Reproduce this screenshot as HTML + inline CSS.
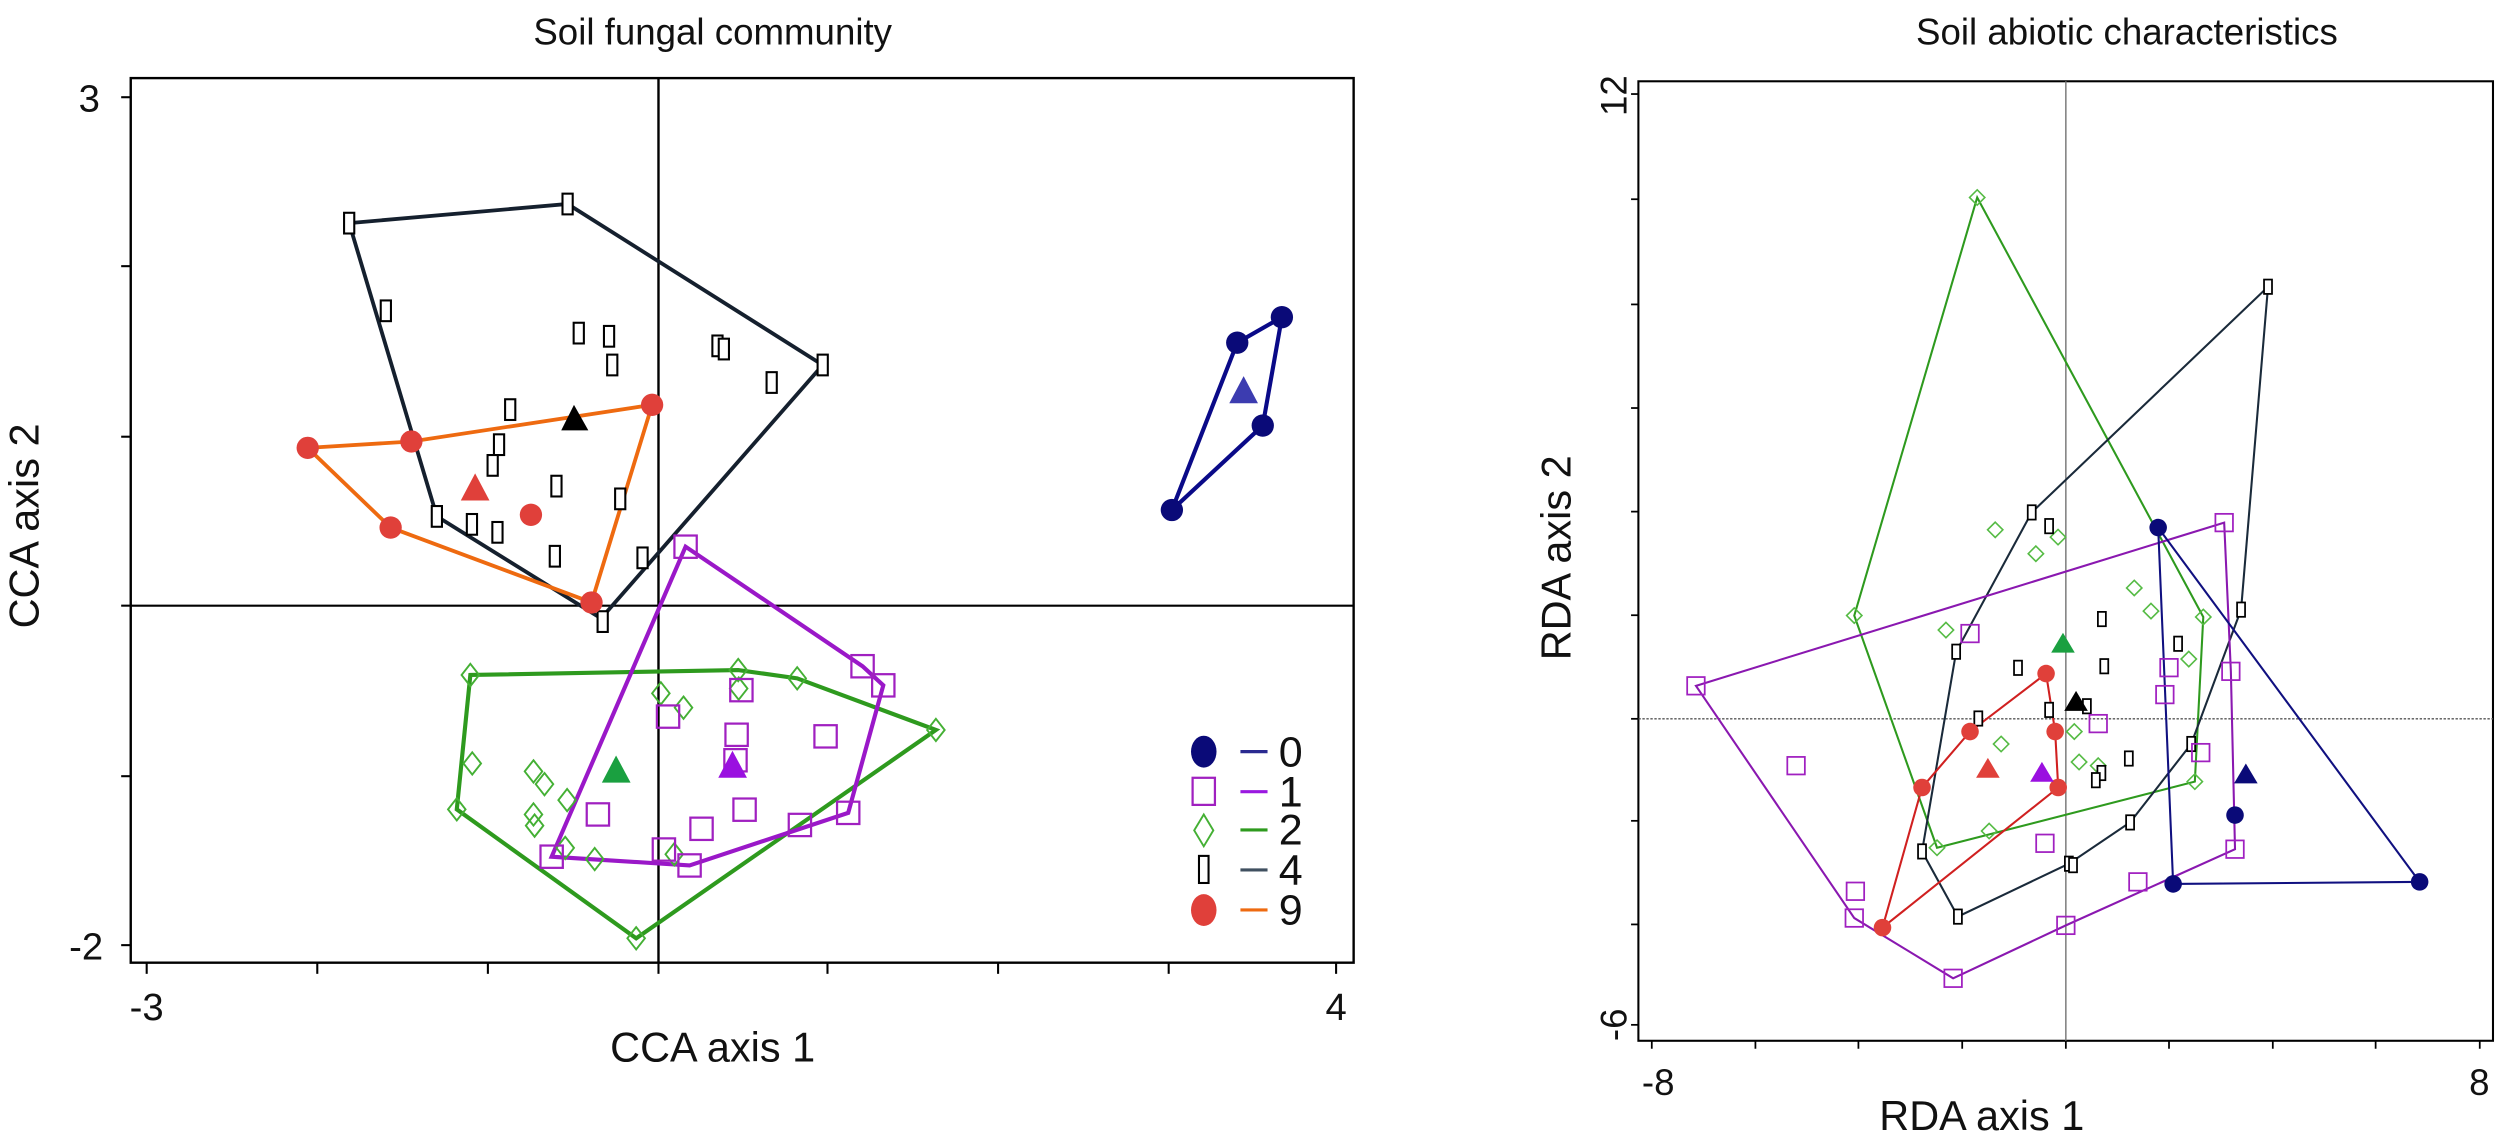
<!DOCTYPE html>
<html><head><meta charset="utf-8"><style>
html,body{margin:0;padding:0;background:#fff;}
svg{display:block;}
text{font-family:"Liberation Sans",sans-serif;fill:#111;}
</style></head><body>
<svg width="2500" height="1138" viewBox="0 0 1568 714" preserveAspectRatio="none" xmlns="http://www.w3.org/2000/svg">
<defs>
<rect id="bL" x="-3.2" y="-6.5" width="6.4" height="13" fill="#fff" stroke="#000" stroke-width="1.3"/>
<rect id="pL" x="-7" y="-7" width="14" height="14" fill="none" stroke="#a020c0" stroke-width="1.4"/>
<path id="gL" d="M0,-7 L5.5,0 L0,7 L-5.5,0Z" fill="none" stroke="#44b034" stroke-width="1.2"/>
<circle id="rL" r="7" fill="#e0403a"/>
<circle id="nL" r="7" fill="#0a0a78"/>
<rect id="bR" x="-2.5" y="-4.5" width="5" height="9" fill="#fff" stroke="#000" stroke-width="1.1"/>
<rect id="pR" x="-5.5" y="-5.5" width="11" height="11" fill="none" stroke="#a020c0" stroke-width="1.1"/>
<path id="gR" d="M0,-4.8 L4.8,0 L0,4.8 L-4.8,0Z" fill="none" stroke="#55bb44" stroke-width="1"/>
<circle id="rR" r="5.5" fill="#e0403a"/>
<circle id="nR" r="5.5" fill="#0a0a78"/>
</defs>

<text x="447" y="28" font-size="23" text-anchor="middle">Soil fungal community</text>
<rect x="82" y="49" width="767" height="555" fill="none" stroke="#000" stroke-width="1.5"/>
<line x1="413" y1="49" x2="413" y2="604" stroke="#000" stroke-width="1.5"/>
<line x1="82" y1="380" x2="849" y2="380" stroke="#000" stroke-width="1.3"/>
<g stroke="#000" stroke-width="1.3">
<line x1="76" y1="61" x2="82" y2="61"/><line x1="76" y1="167" x2="82" y2="167"/><line x1="76" y1="274" x2="82" y2="274"/><line x1="76" y1="380" x2="82" y2="380"/><line x1="76" y1="487" x2="82" y2="487"/><line x1="76" y1="593" x2="82" y2="593"/>
<line x1="92" y1="604" x2="92" y2="611"/><line x1="199" y1="604" x2="199" y2="611"/><line x1="306" y1="604" x2="306" y2="611"/><line x1="413" y1="604" x2="413" y2="611"/><line x1="519" y1="604" x2="519" y2="611"/><line x1="626" y1="604" x2="626" y2="611"/><line x1="733" y1="604" x2="733" y2="611"/><line x1="838" y1="604" x2="838" y2="611"/>
</g>
<text x="56" y="70" font-size="24" text-anchor="middle">3</text>
<text x="54" y="602" font-size="24" text-anchor="middle">-2</text>
<text x="92" y="640" font-size="24" text-anchor="middle">-3</text>
<text x="838" y="640" font-size="24" text-anchor="middle">4</text>
<text x="447" y="666" font-size="26" text-anchor="middle">CCA axis 1</text>
<text transform="translate(24,330) rotate(-90)" font-size="26" text-anchor="middle">CCA axis 2</text>

<polygon points="219,140 356,128 516,229 377,388 274,324" fill="none" stroke="#15202e" stroke-width="2.4"/>
<polygon points="193,281 258,277 409,254 371,378 245,331" fill="none" stroke="#ee6a10" stroke-width="2.4"/>
<polygon points="735,320 776,215 804,199 792,267" fill="none" stroke="#0a0a88" stroke-width="2.6"/>
<polygon points="295,423.5 463,420.4 500,425.6 587,458 399,588.7 286.5,507.8" fill="none" stroke="#2e9a1e" stroke-width="2.6"/>
<polygon points="430,343 541,418 554,430 532,510 432.5,543 346,537.5" fill="none" stroke="#9a18c8" stroke-width="2.6"/>

<g>
<use href="#bL" x="219" y="140"/><use href="#bL" x="356" y="128"/><use href="#bL" x="516" y="229"/><use href="#bL" x="378" y="390"/><use href="#bL" x="274" y="324"/>
<use href="#bL" x="242" y="195"/><use href="#bL" x="363" y="209"/><use href="#bL" x="382" y="211"/><use href="#bL" x="384" y="229"/><use href="#bL" x="450" y="217"/><use href="#bL" x="454" y="219"/><use href="#bL" x="484" y="240"/>
<use href="#bL" x="320" y="257"/><use href="#bL" x="313" y="279"/><use href="#bL" x="309" y="292"/><use href="#bL" x="349" y="305"/><use href="#bL" x="389" y="313"/><use href="#bL" x="296" y="329"/><use href="#bL" x="312" y="334"/><use href="#bL" x="348" y="349"/><use href="#bL" x="403" y="350"/>
</g>
<g>
<use href="#rL" x="193" y="281"/><use href="#rL" x="258" y="277"/><use href="#rL" x="409" y="254"/><use href="#rL" x="371" y="378"/><use href="#rL" x="245" y="331"/><use href="#rL" x="333" y="323"/>
</g>
<g>
<use href="#nL" x="735" y="320"/><use href="#nL" x="776" y="215"/><use href="#nL" x="804" y="199"/><use href="#nL" x="792" y="267"/>
</g>
<g>
<use href="#gL" x="295" y="423.5"/><use href="#gL" x="463" y="420.4"/><use href="#gL" x="500" y="425.6"/><use href="#gL" x="587" y="458"/><use href="#gL" x="399" y="588.7"/><use href="#gL" x="286.5" y="507.8"/>
<use href="#gL" x="414.5" y="435"/><use href="#gL" x="428.7" y="444"/><use href="#gL" x="463.3" y="432"/><use href="#gL" x="296.2" y="479"/><use href="#gL" x="334.6" y="484"/><use href="#gL" x="341.5" y="492"/><use href="#gL" x="355.7" y="502"/><use href="#gL" x="334.6" y="511"/><use href="#gL" x="335.3" y="518"/><use href="#gL" x="354.5" y="532"/><use href="#gL" x="373" y="539"/><use href="#gL" x="422.9" y="536"/>
</g>
<g>
<use href="#pL" x="430" y="343"/><use href="#pL" x="541" y="418"/><use href="#pL" x="554" y="430"/><use href="#pL" x="532" y="510"/><use href="#pL" x="432.5" y="543"/><use href="#pL" x="346" y="537.5"/>
<use href="#pL" x="465" y="433"/><use href="#pL" x="419" y="449.6"/><use href="#pL" x="462" y="461"/><use href="#pL" x="517.8" y="462"/><use href="#pL" x="461.3" y="477"/><use href="#pL" x="375" y="511"/><use href="#pL" x="467" y="508"/><use href="#pL" x="440" y="520"/><use href="#pL" x="501.7" y="517.6"/><use href="#pL" x="416.4" y="533"/>
</g>
<polygon points="360,254 352,270 369,270" fill="#000"/>
<polygon points="298,297 289,314 307,314" fill="#e0403a"/>
<polygon points="780,236 771,253 789,253" fill="#3c3cb0"/>
<polygon points="386.4,474 377.5,491 395.5,491" fill="#1aa040"/>
<polygon points="459.4,471 450.5,488 468.5,488" fill="#9a10e0"/>

<ellipse cx="755" cy="471.6" rx="8" ry="10" fill="#0a0a78"/>
<rect x="748" y="488" width="14" height="17" fill="none" stroke="#a020c0" stroke-width="1.4"/>
<path d="M755,511 L761,521 L755,531 L749,521Z" fill="none" stroke="#44b034" stroke-width="1.2"/>
<rect x="752" y="537" width="6" height="17" fill="#fff" stroke="#000" stroke-width="1.3"/>
<ellipse cx="755" cy="571" rx="8" ry="10" fill="#e0403a"/>
<g stroke-width="2">
<line x1="778" y1="471.6" x2="795" y2="471.6" stroke="#2a2a90"/>
<line x1="778" y1="496.7" x2="795" y2="496.7" stroke="#9a18e0"/>
<line x1="778" y1="520.7" x2="795" y2="520.7" stroke="#2e9a1e"/>
<line x1="778" y1="545.8" x2="795" y2="545.8" stroke="#405060"/>
<line x1="778" y1="570.9" x2="795" y2="570.9" stroke="#ee6a10"/>
</g>
<g font-size="27">
<text x="802" y="481">0</text><text x="802" y="506">1</text><text x="802" y="530">2</text><text x="802" y="555">4</text><text x="802" y="580">9</text>
</g>

<text x="1334" y="28" font-size="23" text-anchor="middle">Soil abiotic characteristics</text>
<rect x="1027.6" y="51" width="536" height="602" fill="none" stroke="#000" stroke-width="1.3"/>
<line x1="1295.7" y1="51" x2="1295.7" y2="653" stroke="#777" stroke-width="0.9"/>
<line x1="1027.6" y1="451" x2="1563.6" y2="451" stroke="#555" stroke-width="0.9" stroke-dasharray="1.5,1"/>
<g stroke="#000" stroke-width="1.1">
<line x1="1023" y1="59" x2="1027.6" y2="59"/><line x1="1023" y1="125" x2="1027.6" y2="125"/><line x1="1023" y1="191" x2="1027.6" y2="191"/><line x1="1023" y1="256" x2="1027.6" y2="256"/><line x1="1023" y1="321" x2="1027.6" y2="321"/><line x1="1023" y1="386" x2="1027.6" y2="386"/><line x1="1023" y1="451" x2="1027.6" y2="451"/><line x1="1023" y1="515" x2="1027.6" y2="515"/><line x1="1023" y1="580" x2="1027.6" y2="580"/><line x1="1023" y1="643" x2="1027.6" y2="643"/>
<line x1="1036" y1="653" x2="1036" y2="658"/><line x1="1101" y1="653" x2="1101" y2="658"/><line x1="1165.6" y1="653" x2="1165.6" y2="658"/><line x1="1230.7" y1="653" x2="1230.7" y2="658"/><line x1="1295.7" y1="653" x2="1295.7" y2="658"/><line x1="1360.4" y1="653" x2="1360.4" y2="658"/><line x1="1425.5" y1="653" x2="1425.5" y2="658"/><line x1="1490" y1="653" x2="1490" y2="658"/><line x1="1555.3" y1="653" x2="1555.3" y2="658"/>
</g>
<text transform="translate(1020,60) rotate(-90)" font-size="23" text-anchor="middle">12</text>
<text transform="translate(1020,643) rotate(-90)" font-size="23" text-anchor="middle">-6</text>
<text x="1040" y="687" font-size="23" text-anchor="middle">-8</text>
<text x="1555" y="687" font-size="23" text-anchor="middle">8</text>
<text x="1243" y="709" font-size="26" text-anchor="middle">RDA axis 1</text>
<text transform="translate(985,350) rotate(-90)" font-size="26" text-anchor="middle">RDA axis 2</text>

<polygon points="1240.1,123.9 1381.9,387.1 1376.6,490.4 1214.9,531.9 1163,386.2" fill="none" stroke="#2e9a1e" stroke-width="1.3"/>
<polygon points="1274.3,321.5 1422.5,179.9 1405.6,382.5 1374.3,466.8 1336,516 1297.6,541.9 1228,575.1 1205.5,534.2 1226.9,408.9" fill="none" stroke="#1a2a3a" stroke-width="1.3"/>
<polygon points="1063.7,430.3 1395,327.9 1399.2,421.2 1401.8,532.8 1295.7,580.6 1225,613.8 1163,576" fill="none" stroke="#8a18b0" stroke-width="1.3"/>
<polygon points="1283.3,422.6 1289,459 1290.9,494.1 1180.7,582 1205.5,494.1 1235.6,459" fill="none" stroke="#d02020" stroke-width="1.3"/>
<polygon points="1353.6,331 1517.6,553.3 1363,554.6" fill="none" stroke="#101080" stroke-width="1.3"/>

<g>
<use href="#gR" x="1240.1" y="123.9"/><use href="#gR" x="1381.9" y="387.1"/><use href="#gR" x="1376.6" y="490.4"/><use href="#gR" x="1214.9" y="531.9"/><use href="#gR" x="1163" y="386.2"/>
<use href="#gR" x="1251.4" y="332.4"/><use href="#gR" x="1276.9" y="347.4"/><use href="#gR" x="1290.8" y="337"/><use href="#gR" x="1220.5" y="395.3"/><use href="#gR" x="1338.6" y="368.9"/><use href="#gR" x="1349.1" y="383.4"/><use href="#gR" x="1372.8" y="413.5"/><use href="#gR" x="1255.1" y="466.8"/><use href="#gR" x="1301" y="459"/><use href="#gR" x="1304" y="478.1"/><use href="#gR" x="1316" y="480.4"/><use href="#gR" x="1247.6" y="521.4"/>
</g>
<g>
<use href="#bR" x="1274.3" y="321.5"/><use href="#bR" x="1422.5" y="179.9"/><use href="#bR" x="1405.6" y="382.5"/><use href="#bR" x="1374.3" y="466.8"/><use href="#bR" x="1336" y="516"/><use href="#bR" x="1297.6" y="541.9"/><use href="#bR" x="1228" y="575.1"/><use href="#bR" x="1205.5" y="534.2"/><use href="#bR" x="1226.9" y="408.9"/>
<use href="#bR" x="1285.2" y="330.1"/><use href="#bR" x="1318.3" y="388.4"/><use href="#bR" x="1319.8" y="418"/><use href="#bR" x="1265.7" y="419"/><use href="#bR" x="1285.2" y="445.4"/><use href="#bR" x="1240.8" y="450.8"/><use href="#bR" x="1308.9" y="443.1"/><use href="#bR" x="1366.1" y="403.9"/><use href="#bR" x="1335.2" y="475.9"/><use href="#bR" x="1318" y="485"/><use href="#bR" x="1314.5" y="489.5"/><use href="#bR" x="1300.2" y="542.8"/>
</g>
<g>
<use href="#pR" x="1063.7" y="430.3"/><use href="#pR" x="1395" y="327.9"/><use href="#pR" x="1399.2" y="421.2"/><use href="#pR" x="1401.8" y="532.8"/><use href="#pR" x="1295.7" y="580.6"/><use href="#pR" x="1225" y="613.8"/><use href="#pR" x="1163" y="576"/>
<use href="#pR" x="1235.6" y="397.5"/><use href="#pR" x="1360.4" y="418.9"/><use href="#pR" x="1357.8" y="435.8"/><use href="#pR" x="1316" y="454"/><use href="#pR" x="1380.3" y="472.2"/><use href="#pR" x="1126.5" y="480.4"/><use href="#pR" x="1282.6" y="529.1"/><use href="#pR" x="1340.9" y="553.3"/><use href="#pR" x="1163.7" y="559.2"/>
</g>
<g>
<use href="#rR" x="1283.3" y="422.6"/><use href="#rR" x="1289" y="459"/><use href="#rR" x="1290.9" y="494.1"/><use href="#rR" x="1180.7" y="582"/><use href="#rR" x="1205.5" y="494.1"/><use href="#rR" x="1235.6" y="459"/>
</g>
<g>
<use href="#nR" x="1353.6" y="331"/><use href="#nR" x="1517.6" y="553.3"/><use href="#nR" x="1363" y="554.6"/><use href="#nR" x="1401.8" y="511.4"/>
</g>
<polygon points="1293.9,397 1286.5,409.5 1301.3,409.5" fill="#1aa040"/>
<polygon points="1302.1,433.5 1294.7,446 1309.5,446" fill="#000"/>
<polygon points="1246.8,475.5 1239.4,488 1254.2,488" fill="#e0403a"/>
<polygon points="1280.7,478 1273.3,490.5 1288.1,490.5" fill="#9a10e0"/>
<polygon points="1408.6,479 1401.2,491.5 1416,491.5" fill="#0a0a78"/>
</svg>
</body></html>
